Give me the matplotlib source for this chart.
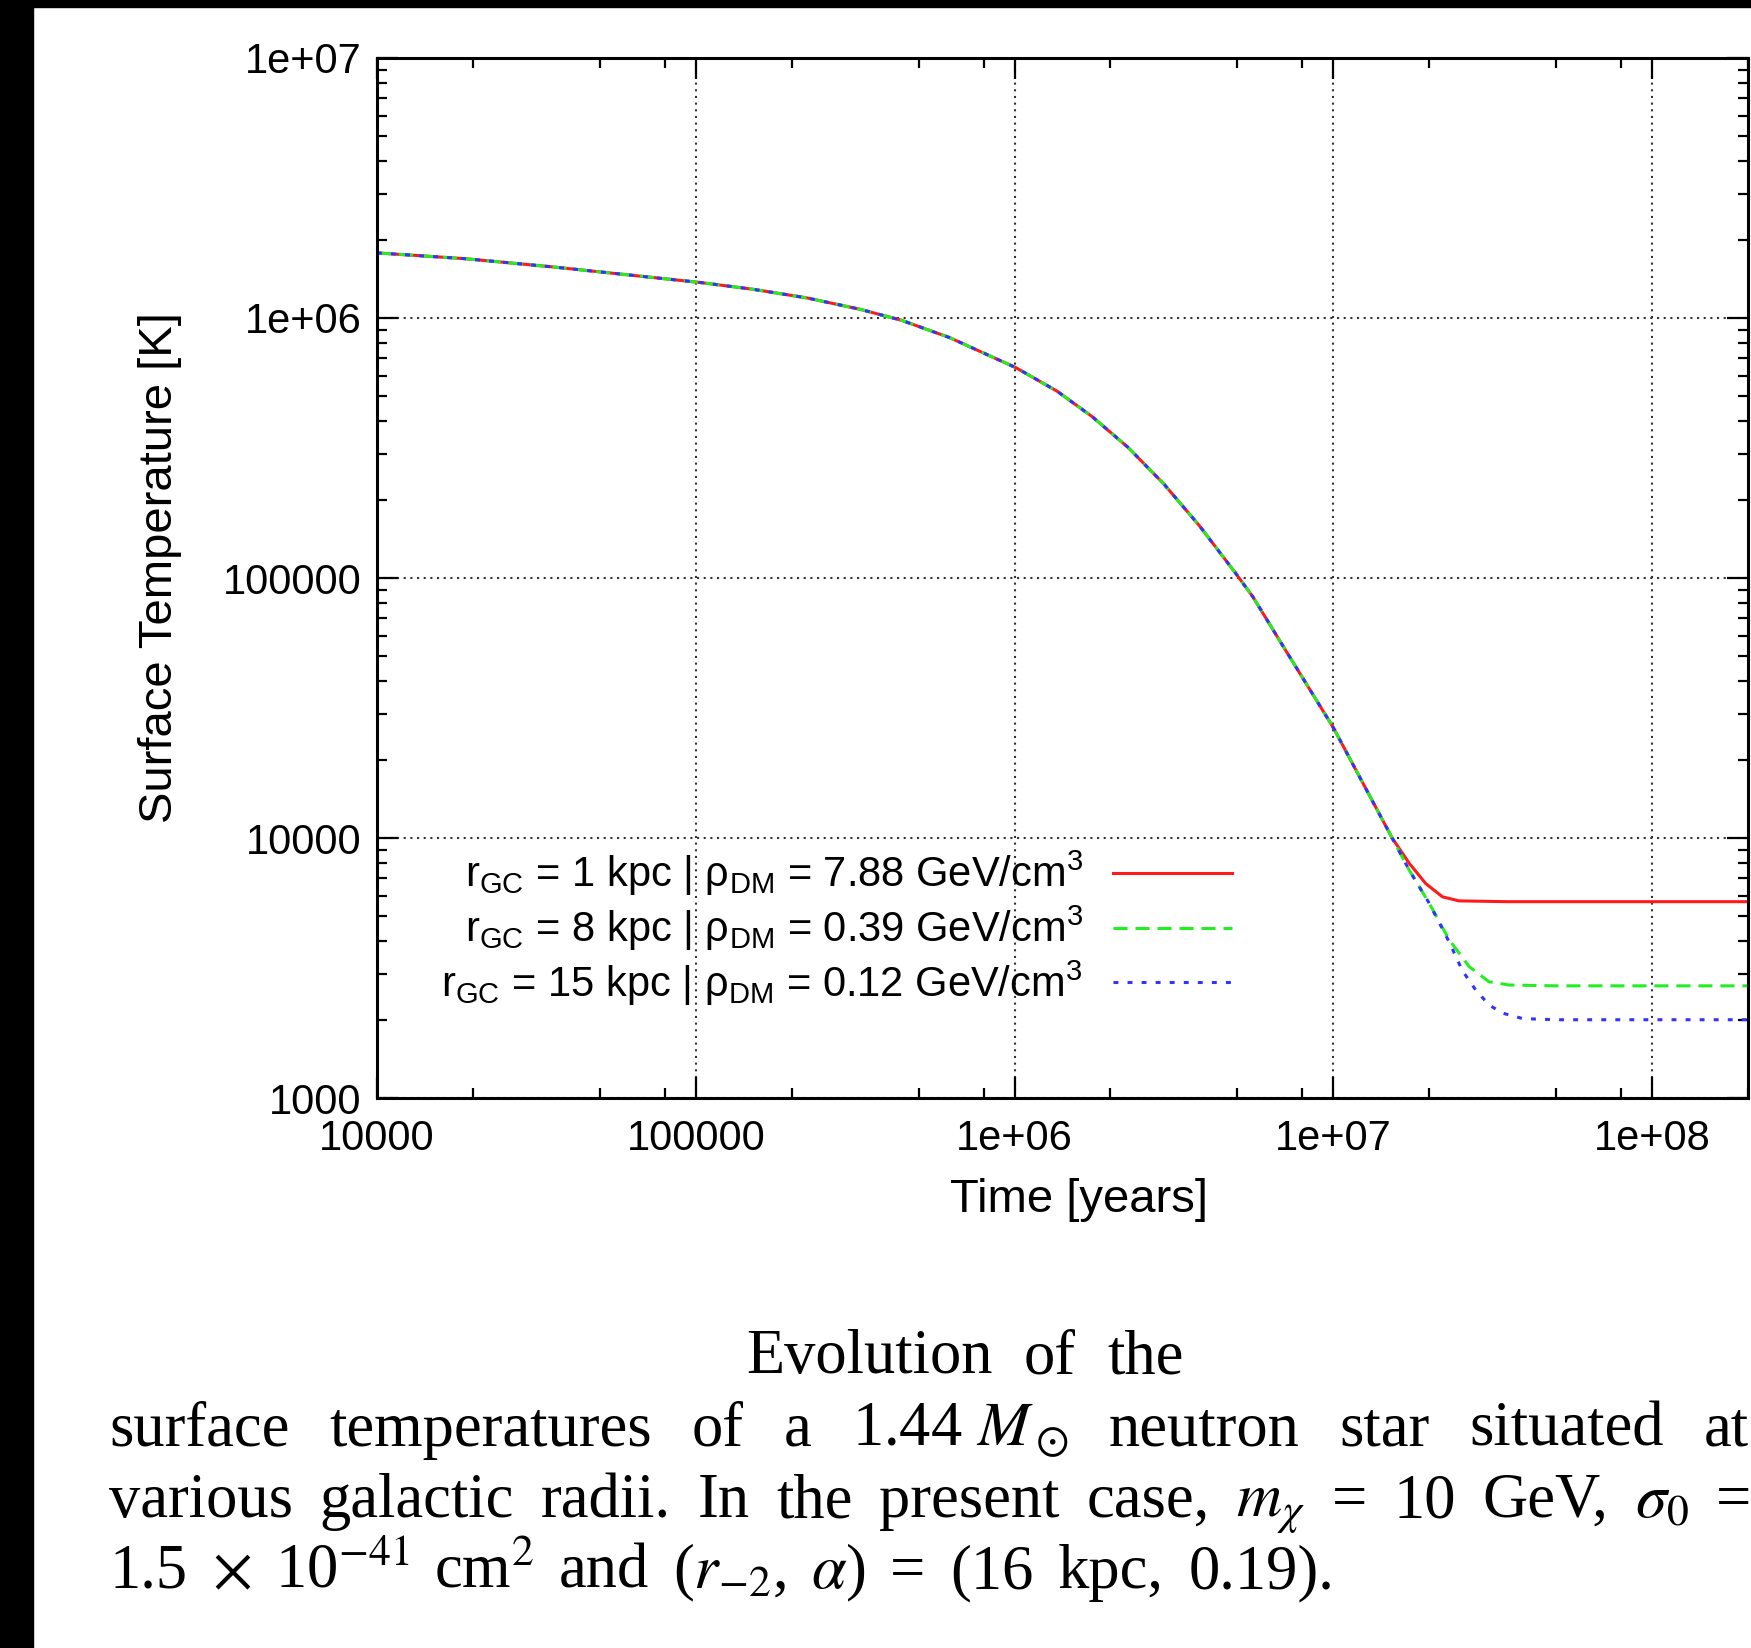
import numpy as np
import matplotlib
matplotlib.use('Agg')
import matplotlib.pyplot as plt
from matplotlib.ticker import FixedLocator, FixedFormatter, LogLocator, NullFormatter
from matplotlib.patches import Rectangle
from matplotlib.font_manager import FontProperties

W, H = 1751, 1648

# cooling track shared by all three stars (years, K)
t_common = [1e4, 1.9e4, 3.6e4, 1.03e5, 1.51e5, 2.23e5, 3.28e5, 4.42e5, 6.25e5, 1.01e6,
            1.36e6, 1.75e6, 2.27e6, 2.94e6, 3.8e6, 4.92e6, 5.6e6, 6.9e6, 1e7, 1.53e7]
T_common = [1.78e6, 1.69e6, 1.57e6, 1.37e6, 1.29e6, 1.195e6, 1.08e6, 9.8e5, 8.41e5, 6.44e5,
            5.23e5, 4.18e5, 3.18e5, 2.30e5, 1.59e5, 1.05e5, 8.45e4, 5.56e4, 2.66e4, 1.0e4]

# late-time branches where DM heating takes over
t_r1 = [1.73e7, 1.95e7, 2.2e7, 2.48e7, 3.5e7, 2e8]
T_r1 = [8000, 6680, 5940, 5730, 5690, 5690]
t_r8 = [1.73e7, 2.0e7, 2.31e7, 2.67e7, 3.08e7, 3.56e7, 5e7, 2e8]
T_r8 = [7530, 5610, 4060, 3200, 2800, 2720, 2700, 2700]
t_r15 = [1.73e7, 2.0e7, 2.31e7, 2.54e7, 2.8e7, 3.08e7, 3.4e7, 3.93e7, 5e7, 2e8]
T_r15 = [7530, 5610, 3980, 3090, 2600, 2280, 2120, 2020, 2000, 2000]

labels = [r'r$_\mathrm{GC}$ = 1 kpc | ρ$_\mathrm{DM}$ = 7.88 GeV/cm$^\mathrm{3}$',
          r'r$_\mathrm{GC}$ = 8 kpc | ρ$_\mathrm{DM}$ = 0.39 GeV/cm$^\mathrm{3}$',
          r'r$_\mathrm{GC}$ = 15 kpc | ρ$_\mathrm{DM}$ = 0.12 GeV/cm$^\mathrm{3}$']

xticks = [1e4, 1e5, 1e6, 1e7, 1e8]
xticklabels = ['10000', '100000', '1e+06', '1e+07', '1e+08']
yticks = [1e3, 1e4, 1e5, 1e6, 1e7]
yticklabels = ['1000', '10000', '100000', '1e+06', '1e+07']

plt.rcParams['mathtext.fontset'] = 'custom'
plt.rcParams['mathtext.rm'] = 'Liberation Sans'
plt.rcParams['mathtext.it'] = 'Liberation Sans:italic'
plt.rcParams['font.family'] = ['Liberation Sans', 'DejaVu Sans']

fig = plt.figure(figsize=(W / 100, H / 100), dpi=100)
ax = fig.add_axes([377 / W, 1 - 1098 / H, 1371 / W, 1040 / H])

lw = 2.2
ax.plot(np.r_[t_common, t_r1], np.r_[T_common, T_r1], color='#ff1a1a', lw=lw, label=labels[0])
ax.plot(np.r_[t_common, t_r8], np.r_[T_common, T_r8], color='#22ee22', lw=lw,
        linestyle=(0, (4.6, 2.6)), label=labels[1])
ax.plot(np.r_[t_common, t_r15], np.r_[T_common, T_r15], color='#3333ff', lw=lw,
        linestyle=(0, (1.6, 3.0)), label=labels[2])

ax.set_xscale('log')
ax.set_yscale('log')
ax.set_xlim(1e4, 2e8)
ax.set_ylim(1e3, 1e7)

ax.xaxis.set_major_locator(FixedLocator(xticks))
ax.xaxis.set_major_formatter(FixedFormatter(xticklabels))
ax.yaxis.set_major_locator(FixedLocator(yticks))
ax.yaxis.set_major_formatter(FixedFormatter(yticklabels))
ax.xaxis.set_minor_locator(LogLocator(base=10, subs=[2, 5, 8], numticks=20))
ax.yaxis.set_minor_locator(LogLocator(base=10, subs=np.arange(2, 10), numticks=20))
ax.xaxis.set_minor_formatter(NullFormatter())
ax.yaxis.set_minor_formatter(NullFormatter())

ax.tick_params(which='both', direction='in', top=True, right=True, width=1.6, color='black')
ax.tick_params(which='major', length=15, labelsize=30)
ax.tick_params(which='minor', length=7.5)
ax.tick_params(axis='x', pad=15)
ax.tick_params(axis='y', pad=11)
for s in ax.spines.values():
    s.set_linewidth(2.2)

ax.grid(True, which='major', color='0.2', lw=1.5, linestyle=(0, (1, 2.2)))

ax.set_xlabel('Time [years]', fontsize=34, va='center')
ax.xaxis.set_label_coords(0.512, -0.098)
ax.set_ylabel('Surface Temperature [K]', fontsize=34, va='center')
ax.yaxis.set_label_coords(-0.158, 0.51)

ax.legend(loc='upper right', bbox_to_anchor=(1232 / W, 1 - 849 / H),
          bbox_transform=fig.transFigure, frameon=False, markerfirst=False,
          handlelength=2.86, handletextpad=0.72, labelspacing=0.13,
          borderpad=0, borderaxespad=0,
          prop=FontProperties(family='Liberation Sans', size=30, math_fontfamily='custom'))

# caption, set like a justified paragraph
cap = dict(fontsize=45, family='Liberation Serif', math_fontfamily='stix', va='baseline')
renderer = fig.canvas.get_renderer()


def justify(words, x0, x1, ybase):
    ts = [fig.text(0, 1 - ybase / H, w, **cap) for w in words]
    ws = [t.get_window_extent(renderer).width for t in ts]
    gap = (x1 - x0 - sum(ws)) / (len(words) - 1)
    x = x0
    for t, w in zip(ts, ws):
        t.set_x(x / W)
        x += w + gap


justify(['Evolution', 'of', 'the'], 746, 1184, 1373)
justify(['surface', 'temperatures', 'of', 'a', r'1.44 $M_\odot$', 'neutron', 'star',
         'situated', 'at'], 109, 1749, 1446)
justify(['various', 'galactic', 'radii.', 'In', 'the', 'present', 'case,', r'$m_\chi$',
         '=', '10', 'GeV,', r'$\sigma_0$', '='], 109, 1751, 1517)
justify(['1.5', r'$\times$', r'10$^{-41}$', r'cm$^2$', 'and', r'($r_{-2}$,', r'$\alpha$)', '=',
         '(16', 'kpc,', '0.19).'], 109, 1334, 1588)

# black page edges of the scan
fig.patches.append(Rectangle((0, 1 - 7 / H), 1, 7 / H, transform=fig.transFigure,
                             color='black', zorder=10))
fig.patches.append(Rectangle((0, 0), 33 / W, 1, transform=fig.transFigure,
                             color='black', zorder=10))

fig.savefig('out.png', dpi=100)
